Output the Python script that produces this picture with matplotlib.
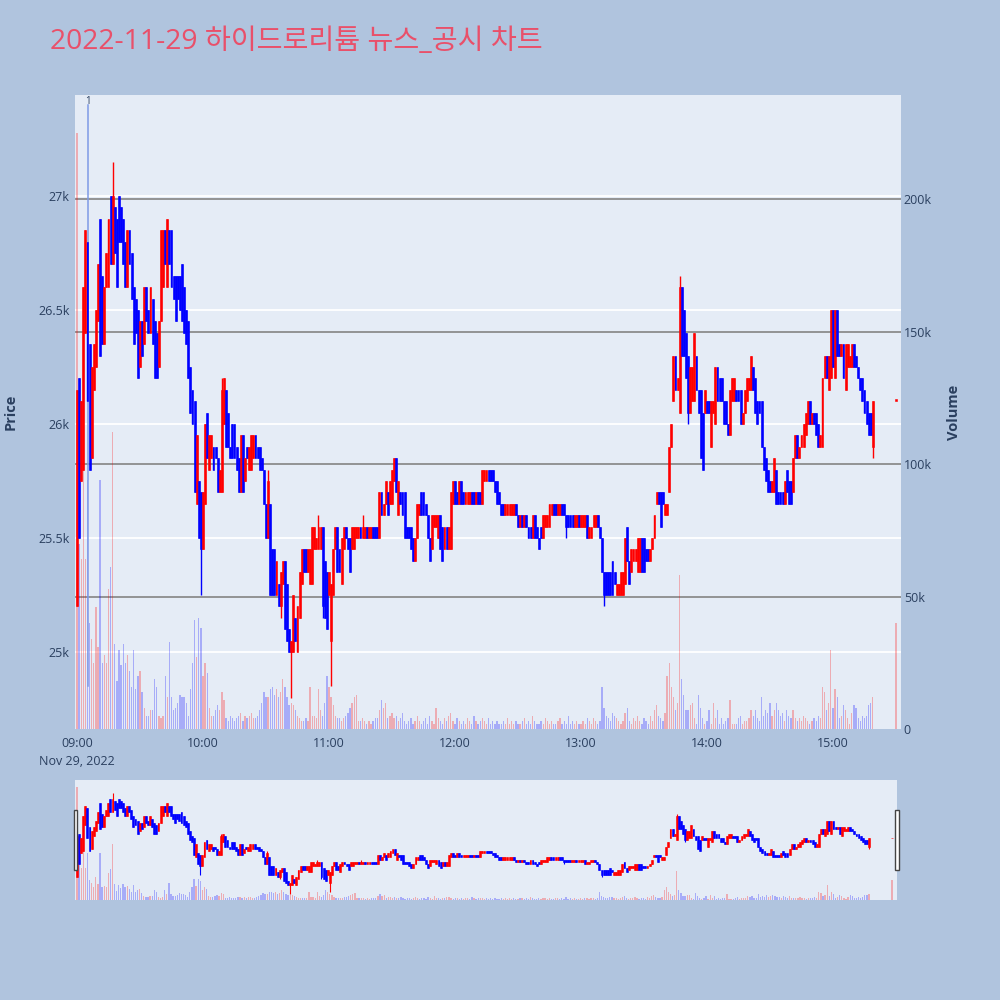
import numpy as np
import matplotlib.pyplot as plt
from matplotlib.patches import Rectangle

## Korean title needs a CJK family; keep Open Sans first for the digits
plt.rcParams['font.family'] = ['Open Sans', 'Noto Sans CJK KR', 'DejaVu Sans']

########################################################
## Data (1-minute candles from 09:00)
########################################################

title = '2022-11-29 하이드로리튬 뉴스_공시 차트'

opens = [
    # 09:00 - 09:47
    25200, 26200, 25750, 25800, 26400, 26800, 26350, 25850, 26150, 26250,
    26450, 26900, 26650, 26350, 26600, 26600, 27000, 26700, 26950, 26900,
    27000, 26950, 26900, 26800, 26600, 26850, 26750, 26600, 26550, 26500,
    26250, 26450, 26350, 26600, 26500, 26400, 26550, 26450, 26400, 26250,
    26450, 26600, 26850, 26600, 26850, 26850, 26650, 26650,
    # 09:48 - 10:32
    26650, 26650, 26700, 26600, 26500, 26450, 26250, 26150, 26100, 25650,
    25750, 25700, 25450, 25650, 26050, 25800, 25850, 25900, 25900, 25850,
    25700, 25700, 26000, 26150, 26050, 25900, 26000, 26000, 25900, 25850,
    25700, 25950, 25750, 25900, 25800, 25800, 25850, 25950, 25900, 25900,
    25850, 25800, 25650, 25500, 25650,
    # 10:33 - 11:23
    25450, 25450, 25250, 25300, 25200, 25300, 25400, 25300, 25100, 25000,
    25000, 25150, 25000, 25150, 25300, 25450, 25450, 25350, 25300, 25300,
    25450, 25450, 25450, 25450, 25550, 25400, 25350, 25250, 25050, 25250,
    25450, 25550, 25450, 25300, 25450, 25550, 25500, 25500, 25450, 25450,
    25500, 25500, 25550, 25500, 25500, 25550, 25500, 25500, 25550, 25550,
    25550,
    # 11:24 - 12:13
    25500, 25700, 25600, 25650, 25700, 25650, 25650, 25750, 25850, 25600,
    25700, 25700, 25700, 25550, 25550, 25550, 25500, 25400, 25500, 25600,
    25700, 25700, 25650, 25600, 25500, 25450, 25550, 25550, 25500, 25600,
    25550, 25450, 25550, 25450, 25450, 25650, 25750, 25700, 25650, 25750,
    25700, 25650, 25650, 25650, 25700, 25700, 25650, 25700, 25700, 25650,
    # 12:14 - 13:03
    25750, 25750, 25800, 25800, 25800, 25750, 25750, 25700, 25650, 25650,
    25600, 25600, 25600, 25600, 25600, 25650, 25600, 25550, 25600, 25550,
    25600, 25550, 25550, 25500, 25600, 25550, 25500, 25550, 25500, 25550,
    25550, 25550, 25600, 25650, 25650, 25600, 25600, 25650, 25650, 25600,
    25600, 25600, 25600, 25550, 25550, 25600, 25550, 25550, 25550, 25600,
    # 13:04 - 13:47
    25500, 25500, 25550, 25550, 25600, 25550, 25500, 25350, 25350, 25350,
    25350, 25400, 25350, 25250, 25250, 25250, 25250, 25300, 25550, 25400,
    25350, 25400, 25400, 25350, 25350, 25500, 25500, 25450, 25450, 25400,
    25450, 25500, 25650, 25700, 25700, 25700, 25600, 25600, 25700, 25900,
    26100, 26300, 26150, 26050,
    # 13:48 - 14:33
    26600, 26500, 26400, 26300, 26050, 26100, 26100, 26300, 26150, 26150,
    26050, 26050, 26100, 26100, 25900, 26050, 26000, 26250, 26200, 26200,
    26100, 26100, 26000, 25950, 26100, 26100, 26150, 26150, 26150, 26000,
    26050, 26100, 26150, 26150, 26250, 26200, 26100, 26100, 26100, 25900,
    25850, 25800, 25750, 25700, 25700, 25800,
    # 14:34 - 15:19
    25700, 25700, 25700, 25650, 25800, 25750, 25750, 25700, 25850, 25950,
    25850, 25900, 25900, 25950, 26000, 26100, 26000, 26050, 26050, 26000,
    25900, 25900, 26200, 26300, 26150, 26200, 26500, 26200, 26500, 26350,
    26300, 26350, 26150, 26250, 26250, 26250, 26350, 26300, 26250, 26200,
    26200, 26150, 26100, 26050, 26050, 25900,
]

closes = [
    26150, 25500, 26100, 26600, 26850, 26100, 25800, 26250, 26350, 26500,
    26700, 26300, 26350, 26600, 26750, 26900, 26700, 27000, 26750, 26600,
    26800, 26800, 26700, 26600, 26850, 26700, 26550, 26350, 26400, 26200,
    26450, 26300, 26600, 26450, 26400, 26600, 26350, 26200, 26200, 26450,
    26850, 26850, 26700, 26900, 26700, 26600, 26550, 26450,
    26550, 26500, 26450, 26400, 26350, 26200, 26050, 26000, 25700, 25950,
    25500, 25450, 25700, 26000, 25850, 25950, 25950, 25800, 25850, 25700,
    25800, 26150, 26200, 25900, 25900, 25850, 25850, 25850, 25800, 25700,
    25950, 25700, 25850, 25850, 25900, 25950, 25950, 25850, 25850, 25800,
    25800, 25650, 25500, 25750, 25250,
    25250, 25250, 25400, 25200, 25350, 25400, 25100, 25050, 25000, 25050,
    25250, 25050, 25200, 25350, 25450, 25350, 25350, 25450, 25450, 25550,
    25550, 25500, 25550, 25550, 25200, 25150, 25100, 25350, 25300, 25450,
    25550, 25350, 25350, 25500, 25550, 25500, 25450, 25350, 25550, 25550,
    25550, 25550, 25500, 25550, 25550, 25500, 25550, 25550, 25500, 25500,
    25500,
    25700, 25600, 25650, 25750, 25600, 25750, 25800, 25850, 25700, 25750,
    25650, 25600, 25500, 25500, 25500, 25450, 25400, 25500, 25650, 25650,
    25600, 25600, 25600, 25500, 25400, 25600, 25600, 25600, 25600, 25450,
    25400, 25550, 25450, 25550, 25700, 25750, 25650, 25650, 25750, 25650,
    25650, 25700, 25700, 25700, 25650, 25650, 25700, 25650, 25650, 25800,
    25800, 25800, 25750, 25750, 25750, 25700, 25650, 25650, 25600, 25600,
    25650, 25650, 25650, 25650, 25650, 25600, 25550, 25600, 25550, 25600,
    25550, 25500, 25500, 25600, 25500, 25500, 25450, 25500, 25600, 25600,
    25600, 25650, 25650, 25600, 25600, 25650, 25650, 25600, 25600, 25550,
    25550, 25550, 25550, 25600, 25600, 25550, 25600, 25600, 25600, 25500,
    25550, 25550, 25600, 25600, 25550, 25500, 25350, 25250, 25250, 25250,
    25250, 25250, 25300, 25300, 25300, 25350, 25350, 25500, 25400, 25300,
    25450, 25450, 25450, 25500, 25500, 25350, 25350, 25400, 25400, 25450,
    25500, 25600, 25700, 25650, 25550, 25650, 25650, 25650, 25900, 26000,
    26300, 26150, 26200, 26600,
    26300, 26300, 26200, 26050, 26250, 26250, 26400, 26150, 26050, 25850,
    25800, 26150, 26050, 26050, 26100, 26100, 26250, 26100, 26100, 26100,
    26000, 26000, 25950, 26150, 26200, 26200, 26100, 26100, 26000, 26050,
    26150, 26200, 26200, 26300, 26150, 26050, 26000, 26050, 25900, 25800,
    25750, 25700, 25700, 25750, 25850, 25650,
    25650, 25650, 25650, 25750, 25700, 25650, 25650, 25850, 25950, 25850,
    25900, 25950, 26000, 26050, 26100, 26000, 26050, 26000, 25950, 25900,
    25950, 26200, 26300, 26200, 26300, 26500, 26250, 26500, 26300, 26300,
    26350, 26200, 26350, 26350, 26300, 26350, 26250, 26250, 26200, 26150,
    26100, 26050, 26000, 25950, 25950, 26100,
]

## volume in thousands of shares, one per minute
volumes_k = [
    225, 70, 64, 110, 64, 94, 40, 34, 25, 46, 31, 94, 25, 28, 25, 53, 61, 112, 32, 18,
    30, 24, 32, 25, 28, 22, 16, 30, 15, 20, 22, 14, 8, 5, 5, 7, 7, 19, 16, 5,
    4, 5, 20, 12, 33, 12, 7, 8,
    10, 13, 12, 12, 10, 5, 15, 25, 41, 27, 42, 38, 20, 25, 21, 8, 5, 5, 7, 9,
    7, 14, 11, 4, 3, 5, 4, 3, 4, 5, 6, 3, 5, 4, 5, 6, 4, 4, 5, 7,
    10, 14, 12, 12, 15,
    16, 13, 15, 12, 14, 19, 16, 12, 9, 10, 9, 7, 5, 4, 3, 3, 4, 3, 16, 5,
    5, 4, 15, 7, 5, 10, 20, 16, 12, 9, 5, 4, 4, 3, 4, 5, 6, 8, 10, 12,
    13, 3, 3, 4, 3, 2, 3, 2, 3, 4, 4,
    7, 11, 8, 10, 4, 5, 6, 4, 5, 3, 4, 6, 3, 2, 3, 4, 2, 3, 5, 3,
    2, 3, 4, 2, 5, 3, 2, 8, 4, 3, 2, 4, 3, 5, 6, 3, 2, 4, 3, 2,
    3, 2, 4, 3, 2, 5, 3, 2, 3, 4,
    3, 2, 4, 2, 3, 2, 3, 2, 2, 3, 2, 4, 2, 3, 2, 3, 2, 2, 3, 4,
    2, 3, 2, 5, 3, 2, 2, 3, 2, 4, 3, 2, 3, 2, 2, 3, 4, 2, 3, 2,
    5, 2, 3, 2, 3, 2, 2, 3, 2, 4,
    3, 2, 4, 3, 2, 3, 16, 8, 5, 4, 3, 6, 5, 4, 3, 2, 3, 6, 8, 3,
    2, 4, 3, 5, 3, 2, 4, 3, 2, 5, 3, 7, 9, 5, 4, 3, 6, 20, 25, 16,
    12, 7, 10, 58,
    19, 13, 7, 7, 9, 10, 4, 2, 13, 8, 4, 2, 3, 7, 2, 10, 4, 7, 2, 4,
    2, 3, 4, 11, 2, 2, 2, 4, 5, 2, 3, 3, 4, 7, 5, 7, 4, 3, 12, 5,
    7, 6, 10, 5, 7, 10,
    7, 5, 6, 3, 7, 5, 4, 7, 4, 3, 4, 3, 5, 4, 3, 2, 3, 4, 3, 5,
    4, 16, 14, 7, 10, 30, 8, 15, 12, 4, 5, 9, 7, 4, 2, 6, 9, 8, 4, 3,
    5, 4, 5, 9, 10, 12,
]

## wicks that stick out past the body (minute index -> price)
high_wicks = {17: 27150, 50: 26700, 69: 26200, 91: 25800, 115: 25600, 136: 25600, 287: 26650}
low_wicks = {59: 25250, 97: 25150, 102: 24800, 117: 25150, 121: 24850, 233: 25500,
             251: 25200, 291: 26000, 379: 25850}

## closing auction print at 15:30
auction_minute = 390
auction_price = 26100
auction_volume_k = 40

## news marker
news_minute = 5.4
news_label = '1'

hour_ticks = [0, 60, 120, 180, 240, 300, 360]
hour_labels = ['09:00\nNov 29, 2022', '10:00', '11:00', '12:00', '13:00', '14:00', '15:00']
price_ticks = [25000, 25500, 26000, 26500, 27000]
price_labels = ['25k', '25.5k', '26k', '26.5k', '27k']
vol_ticks = [0, 50000, 100000, 150000, 200000]
vol_labels = ['0', '50k', '100k', '150k', '200k']

########################################################
## Build the candle arrays
########################################################

o = np.array(opens + [auction_price], dtype=float)
c = np.array(closes + [auction_price], dtype=float)
x = np.append(np.arange(len(opens)), auction_minute).astype(float)
hi = np.maximum(o, c)
lo = np.minimum(o, c)
for k, v in high_wicks.items():
    hi[k] = max(hi[k], v)
for k, v in low_wicks.items():
    lo[k] = min(lo[k], v)
vol = np.array(volumes_k + [auction_volume_k], dtype=float) * 1000
up = c >= o

RED = '#ff0000'
BLUE = '#0000ff'
cols = np.where(up, RED, BLUE)
vcols = [(1, 0, 0, 0.27) if u else (0, 0, 1, 0.27) for u in up]

BG = '#b0c4de'
PLOT_BG = '#e5ecf6'
TXT = '#2a3f5f'

XLIM = (-0.95, 392.4)
PLIM = (24662, 27443)
VLIM = (0, 239300)


def draw_candles(axp, axv, body_w, wick_lw):
    axv.bar(x, vol, width=0.6, color=vcols, linewidth=0, zorder=2)
    axp.vlines(x, lo, hi, colors=cols, linewidth=wick_lw, zorder=3)
    ## bodies; a flat candle still gets a thin sliver
    axp.bar(x, np.maximum(np.abs(c - o), 8), bottom=np.minimum(o, c),
            width=body_w, color=cols, edgecolor=cols, linewidth=0.4, zorder=4)


def clean(a):
    for s in a.spines.values():
        s.set_visible(False)
    a.tick_params(length=0)


fig = plt.figure(figsize=(10, 10), dpi=100, facecolor=BG)

########################################################
## Main chart: volume axis behind, price axis in front
########################################################

rect = [0.075, 0.271, 0.826, 0.634]
axv = fig.add_axes(rect, facecolor=PLOT_BG)
ax = fig.add_axes(rect, sharex=axv)
ax.patch.set_visible(False)

# price grid (white) drawn at the back, volume grid (gray)
for p in price_ticks:
    f = (p - PLIM[0]) / (PLIM[1] - PLIM[0])
    axv.plot([0, 1], [f, f], transform=axv.transAxes, color='white', lw=1.3, zorder=0.5)
for v in vol_ticks[1:]:
    axv.axhline(v, color='#8c8c8c', lw=1.3, zorder=0.6)

draw_candles(ax, axv, 0.9, 1.0)

ax.set_xlim(*XLIM)
ax.set_ylim(*PLIM)
axv.set_ylim(*VLIM)

ax.set_yticks(price_ticks)
ax.set_yticklabels(price_labels, fontsize=9, color=TXT)
ax.set_xticks(hour_ticks)
ax.set_xticklabels(hour_labels, fontsize=9, color=TXT, linespacing=1.5)
ax.tick_params(axis='y', pad=4)
ax.tick_params(axis='x', pad=6)

axv.yaxis.tick_right()
axv.set_yticks(vol_ticks)
axv.set_yticklabels(vol_labels, fontsize=9, color=TXT)
axv.tick_params(axis='y', pad=2)
axv.tick_params(axis='x', labelbottom=False)
clean(ax)
clean(axv)

# news marker line
ax.axvline(news_minute, ymin=0.068, ymax=0.985, color='#7f9be6', lw=1.1, zorder=2.5)
ax.text(news_minute, 0.999, news_label, transform=ax.get_xaxis_transform(),
        ha='center', va='top', fontsize=7, color=TXT)

fig.text(0.011, 0.588, 'Price', rotation=90, ha='center', va='center',
         fontsize=10.5, fontweight='bold', color=TXT)
fig.text(0.954, 0.588, 'Volume', rotation=90, ha='center', va='center',
         fontsize=10.5, fontweight='bold', color=TXT)

fig.text(0.05, 0.958, title, ha='left', va='center', fontsize=20.3, color='#e9506a')

########################################################
## Range slider underneath
########################################################

srect = [0.075, 0.100, 0.822, 0.120]
sv = fig.add_axes(srect, facecolor=PLOT_BG)
sp = fig.add_axes(srect, sharex=sv)
sp.patch.set_visible(False)
draw_candles(sp, sv, 0.9, 0.8)
sp.set_xlim(*XLIM)
sp.set_ylim(*PLIM)
sv.set_ylim(*VLIM)
for a in (sv, sp):
    clean(a)
    a.set_xticks([])
    a.set_yticks([])

for x0 in (-0.0018, 0.9976):
    sp.add_patch(Rectangle((x0, 0.25), 0.0048, 0.5, transform=sp.transAxes,
                           facecolor='white', edgecolor='#444444', lw=1, clip_on=False, zorder=6))

fig.savefig('out.png', dpi=100, facecolor=BG)
